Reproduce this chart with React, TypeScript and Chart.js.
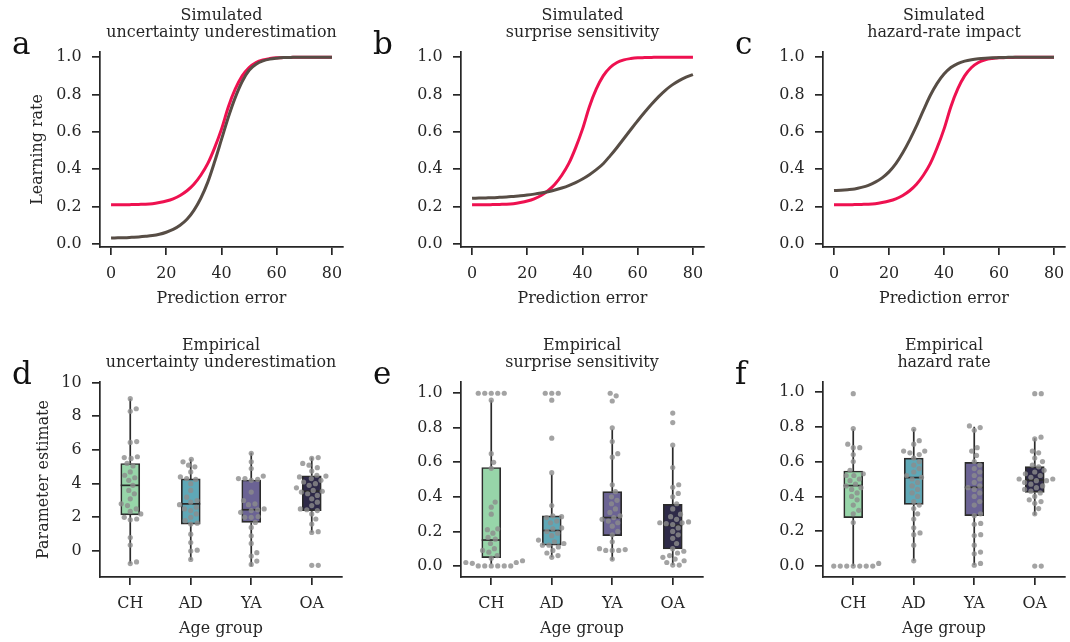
import React, { useEffect, useRef } from 'react';
import { Chart, registerables } from 'chart.js';

Chart.register(...registerables);

const FONT = '"DejaVu Serif", "Liberation Serif", serif';
const FS = 15.9;
const INK = '#262626';
const RED = '#ee1150';
const BROWN = '#574d45';
const EDGE = '#2b2b2b';
const POINT = 'rgba(140,140,140,0.8)';
const BOX_COLORS = ['#97d5a9', '#5fa8b7', '#6b6394', '#2e2a48'];

Chart.defaults.font.family = FONT;
Chart.defaults.font.size = FS;
Chart.defaults.color = INK;

// ---------- top row: simulated learning-rate curves ----------
const predictionError = [0, 2.5, 5, 7.5, 10, 12.5, 15, 17.5, 20, 22.5, 25, 27.5, 30, 32.5, 35, 37.5, 40, 42.5, 45, 47.5, 50, 52.5, 55, 57.5, 60, 62.5, 65, 67.5, 70, 72.5, 75, 77.5, 80];
const predictionErrorTicks = [0, 20, 40, 60, 80];
const learningRateTicks = [0, 0.2, 0.4, 0.6, 0.8, 1.0];

// red: reference model (same in all three panels)
const referenceLR = [0.21, 0.21, 0.21, 0.211, 0.212, 0.213, 0.216, 0.222, 0.23, 0.242, 0.26, 0.285, 0.32, 0.368, 0.43, 0.515, 0.615, 0.735, 0.83, 0.9, 0.945, 0.972, 0.986, 0.993, 0.997, 0.998, 0.999, 1, 1, 1, 1, 1, 1];
// brown: manipulated parameter
const uuSimulated = [0.032, 0.033, 0.034, 0.036, 0.038, 0.041, 0.045, 0.052, 0.063, 0.078, 0.1, 0.132, 0.18, 0.245, 0.33, 0.44, 0.56, 0.68, 0.785, 0.87, 0.93, 0.962, 0.98, 0.99, 0.995, 0.998, 0.999, 1, 1, 1, 1, 1, 1];
const ssSimulated = [0.245, 0.246, 0.247, 0.248, 0.25, 0.252, 0.255, 0.258, 0.262, 0.267, 0.273, 0.28, 0.289, 0.3, 0.313, 0.329, 0.348, 0.371, 0.398, 0.43, 0.472, 0.517, 0.565, 0.613, 0.66, 0.705, 0.748, 0.788, 0.823, 0.852, 0.875, 0.893, 0.907];
const hzSimulated = [0.286, 0.288, 0.291, 0.295, 0.303, 0.314, 0.331, 0.354, 0.386, 0.43, 0.488, 0.556, 0.632, 0.715, 0.795, 0.86, 0.91, 0.945, 0.966, 0.979, 0.987, 0.992, 0.995, 0.997, 0.998, 0.999, 1, 1, 1, 1, 1, 1, 1];

// ---------- bottom row: empirical parameter estimates ----------
const ageGroups = ['CH', 'AD', 'YA', 'OA'];
const paramTicks = [0, 2, 4, 6, 8, 10];
const unitTicks = [0, 0.2, 0.4, 0.6, 0.8, 1.0];

const uuCH = [9.05, 8.45, 8.3, 6.5, 6.45, 5.6, 5.55, 5.5, 5.2, 5.05, 4.7, 4.5, 4.35, 4.2, 3.9, 3.6, 3.4, 3.1, 2.8, 2.7, 2.5, 2.35, 2.2, 2.0, 1.9, 1.85, 0.8, 0.35, -0.65, -0.75];
const uuAD = [5.45, 5.3, 5.1, 5.0, 4.7, 4.4, 4.3, 4.25, 4.0, 3.6, 3.2, 3.0, 2.9, 2.75, 2.6, 2.5, 2.4, 2.2, 2.0, 1.8, 1.65, 1.6, 1.0, 0.5, 0.05, 0.0, -0.5];
const uuYA = [5.8, 5.3, 4.9, 4.45, 4.3, 4.3, 4.25, 4.2, 3.5, 3.0, 2.8, 2.75, 2.5, 2.45, 2.4, 2.3, 2.05, 2.0, 2.0, 1.7, 1.4, 0.9, 0.45, -0.1, -0.3, -0.6, -0.8];
const uuOA = [5.55, 5.5, 5.2, 5.1, 4.95, 4.75, 4.5, 4.45, 4.4, 4.3, 4.2, 4.1, 4.0, 3.9, 3.75, 3.6, 3.55, 3.5, 3.4, 3.3, 3.1, 2.9, 2.7, 2.5, 2.45, 2.4, 2.2, 1.9, 1.6, 1.15, 1.1, -0.85, -0.85];
const uuQ1 = [2.15, 1.6, 1.7, 2.4];
const uuMedian = [3.9, 2.8, 2.45, 3.55];
const uuQ3 = [5.2, 4.28, 4.22, 4.47];
const uuLow = [-0.75, -0.53, -0.9, 1.1];
const uuHigh = [9.05, 5.45, 5.84, 5.55];

const ssCH = [1.0, 1.0, 1.0, 1.0, 1.0, 0.96, 0.65, 0.6, 0.565, 0.37, 0.34, 0.3, 0.215, 0.21, 0.19, 0.165, 0.155, 0.13, 0.1, 0.09, 0.08, 0.06, 0.045, 0.03, 0.02, 0.02, 0.015, 0.0, 0.0, 0.0, 0.0, 0.0, 0.0];
const ssAD = [1.0, 1.0, 1.0, 0.96, 0.74, 0.54, 0.35, 0.29, 0.285, 0.28, 0.26, 0.25, 0.22, 0.215, 0.2, 0.19, 0.175, 0.15, 0.14, 0.13, 0.12, 0.12, 0.11, 0.09, 0.075, 0.06, 0.05];
const ssYA = [1.0, 0.985, 0.955, 0.8, 0.72, 0.65, 0.63, 0.47, 0.43, 0.4, 0.38, 0.36, 0.33, 0.31, 0.29, 0.28, 0.27, 0.26, 0.25, 0.23, 0.2, 0.18, 0.14, 0.1, 0.095, 0.09, 0.09, 0.09, 0.04];
const ssOA = [0.885, 0.83, 0.7, 0.57, 0.47, 0.455, 0.42, 0.4, 0.36, 0.33, 0.3, 0.285, 0.27, 0.255, 0.25, 0.25, 0.245, 0.24, 0.22, 0.2, 0.18, 0.16, 0.13, 0.1, 0.085, 0.075, 0.06, 0.05, 0.04, 0.03, 0.02, 0.005, 0.005];
const ssQ1 = [0.048, 0.12, 0.175, 0.098];
const ssMedian = [0.15, 0.205, 0.28, 0.235];
const ssQ3 = [0.57, 0.29, 0.43, 0.357];
const ssLow = [0.01, 0.05, 0.035, 0.005];
const ssHigh = [0.96, 0.53, 0.79, 0.69];

const hzCH = [0.99, 0.79, 0.7, 0.68, 0.68, 0.64, 0.6, 0.55, 0.53, 0.52, 0.52, 0.5, 0.49, 0.47, 0.46, 0.45, 0.44, 0.42, 0.4, 0.38, 0.35, 0.32, 0.3, 0.25, 0.015, 0, 0, 0, 0, 0, 0, 0];
const hzAD = [0.785, 0.72, 0.7, 0.66, 0.66, 0.65, 0.64, 0.62, 0.6, 0.58, 0.56, 0.54, 0.52, 0.51, 0.5, 0.48, 0.46, 0.44, 0.42, 0.4, 0.37, 0.35, 0.33, 0.3, 0.27, 0.22, 0.19, 0.18, 0.12, 0.03];
const hzYA = [0.805, 0.795, 0.78, 0.68, 0.66, 0.635, 0.6, 0.58, 0.56, 0.54, 0.52, 0.5, 0.48, 0.46, 0.45, 0.44, 0.42, 0.4, 0.37, 0.35, 0.3, 0.29, 0.245, 0.24, 0.18, 0.175, 0.12, 0.08, 0.07, 0.015, 0.005];
const hzOA = [0.99, 0.99, 0.74, 0.73, 0.66, 0.65, 0.62, 0.6, 0.58, 0.57, 0.55, 0.54, 0.53, 0.52, 0.51, 0.5, 0.5, 0.49, 0.49, 0.48, 0.47, 0.46, 0.45, 0.44, 0.43, 0.42, 0.4, 0.38, 0.37, 0.36, 0.33, 0.3, 0, 0];
const hzQ1 = [0.278, 0.354, 0.289, 0.423];
const hzMedian = [0.462, 0.508, 0.452, 0.494];
const hzQ3 = [0.546, 0.62, 0.596, 0.571];
const hzLow = [0.0, 0.03, 0.006, 0.293];
const hzHigh = [0.785, 0.785, 0.8, 0.734];

// ---------- helpers ----------
function textPlugin(letter: string, lines: string[]) {
  return {
    id: 'panelText',
    afterDraw(chart: any) {
      const { ctx, chartArea } = chart;
      ctx.save();
      ctx.fillStyle = INK;
      ctx.font = `${FS}px ${FONT}`;
      ctx.textAlign = 'center';
      ctx.textBaseline = 'alphabetic';
      const cx = (chartArea.left + chartArea.right) / 2;
      lines.forEach((t, k) => ctx.fillText(t, cx, chartArea.top - 31.6 + k * 16.8));
      ctx.font = `31px ${FONT}`;
      ctx.fillStyle = '#111';
      ctx.textAlign = 'left';
      ctx.fillText(letter, chartArea.left - 88, chartArea.top + 2);
      ctx.restore();
    },
  };
}

function boxPlugin(q1: number[], med: number[], q3: number[], low: number[], high: number[]) {
  return {
    id: 'boxExtras',
    beforeDatasetsDraw(chart: any) {
      const { ctx } = chart;
      const xs = chart.scales.x;
      const ys = chart.scales.y;
      ctx.save();
      ctx.strokeStyle = EDGE;
      ctx.lineWidth = 1.7;
      med.forEach((_, i) => {
        const x = xs.getPixelForValue(i);
        ctx.beginPath();
        ctx.moveTo(x, ys.getPixelForValue(low[i]));
        ctx.lineTo(x, ys.getPixelForValue(q1[i]));
        ctx.moveTo(x, ys.getPixelForValue(q3[i]));
        ctx.lineTo(x, ys.getPixelForValue(high[i]));
        ctx.stroke();
      });
      ctx.restore();
    },
    afterDatasetDraw(chart: any, args: any) {
      if (args.index !== 0) return;
      const { ctx } = chart;
      const ys = chart.scales.y;
      const meta = chart.getDatasetMeta(0);
      ctx.save();
      ctx.strokeStyle = EDGE;
      ctx.lineWidth = 1.7;
      meta.data.forEach((el: any, i: number) => {
        const y = ys.getPixelForValue(med[i]);
        ctx.beginPath();
        ctx.moveTo(el.x - el.width / 2, y);
        ctx.lineTo(el.x + el.width / 2, y);
        ctx.stroke();
      });
      ctx.restore();
    },
  };
}

function beeswarm(py: number[], d: number): number[] {
  const order = py.map((_, i) => i).sort((a, b) => py[b] - py[a]);
  const placed: { x: number; y: number }[] = [];
  const out = new Array(py.length).fill(0);
  for (const i of order) {
    const y = py[i];
    const near = placed.filter((p) => Math.abs(p.y - y) < d);
    const cands = [0];
    near.forEach((p) => {
      const dx = Math.sqrt(d * d - (p.y - y) * (p.y - y));
      cands.push(p.x + dx, p.x - dx);
    });
    cands.sort((a, b) => Math.abs(a) - Math.abs(b));
    const x = cands.find((c) => near.every((p) => (p.x - c) ** 2 + (p.y - y) ** 2 >= d * d - 1e-6)) ?? 0;
    out[i] = x;
    placed.push({ x, y });
  }
  return out;
}

const X_TICKS = { padding: 9, color: INK, autoSkip: false, maxRotation: 0, font: { size: FS } };
const Y_TICKS = { padding: 10.5, color: INK, autoSkip: false, font: { size: FS } };

function xAxisBase(height: number, titleText: string, titleBottom: number) {
  return {
    type: 'linear',
    offset: false,
    afterFit: (s: any) => {
      s.height = height;
      s.paddingLeft = 0;
      s.paddingRight = 0;
    },
    border: { display: true, color: INK, width: 1.7 },
    grid: { display: true, drawOnChartArea: false, drawTicks: true, tickLength: 8, lineWidth: 1.7, color: INK, offset: false },
    title: { display: true, text: titleText, color: INK, font: { size: FS }, padding: { top: 0, bottom: titleBottom } },
  };
}

function yAxisBase(width: number, yTitle: string | undefined, titleTop: number) {
  return {
    type: 'linear',
    afterFit: (s: any) => {
      s.width = width;
      s.paddingTop = 0;
      s.paddingBottom = 0;
    },
    border: { display: true, color: INK, width: 1.7 },
    grid: { display: true, drawOnChartArea: false, drawTicks: true, tickLength: 8, lineWidth: 1.7, color: INK },
    title: { display: !!yTitle, text: yTitle || '', color: INK, font: { size: FS }, padding: { top: titleTop, bottom: 0 } },
  };
}

type LinePanelCfg = {
  letter: string; lines: string[]; yLabel?: string; reference: number[]; simulated: number[];
  left: number; width: number; axisW: number; padR: number;
};

const ROW_H = 321;

const linePanels: LinePanelCfg[] = [
  { letter: 'a', lines: ['Simulated', 'uncertainty underestimation'], yLabel: 'Learning rate', reference: referenceLR, simulated: uuSimulated, left: 0, width: 360, axisW: 100, padR: 17 },
  { letter: 'b', lines: ['Simulated', 'surprise sensitivity'], reference: referenceLR, simulated: ssSimulated, left: 360, width: 360, axisW: 101, padR: 16 },
  { letter: 'c', lines: ['Simulated', 'hazard-rate impact'], reference: referenceLR, simulated: hzSimulated, left: 720, width: 350, axisW: 103, padR: 5 },
];

type BoxPanelCfg = {
  letter: string; lines: string[]; yLabel?: string; groups: number[][];
  q1: number[]; med: number[]; q3: number[]; low: number[]; high: number[];
  yMin: number; yMax: number; yTicks: number[]; decimals: number;
  left: number; width: number; axisW: number; padR: number;
};

const boxPanels: BoxPanelCfg[] = [
  { letter: 'd', lines: ['Empirical', 'uncertainty underestimation'], yLabel: 'Parameter estimate', groups: [uuCH, uuAD, uuYA, uuOA], q1: uuQ1, med: uuMedian, q3: uuQ3, low: uuLow, high: uuHigh, yMin: -1.545, yMax: 10.04, yTicks: paramTicks, decimals: 0, left: 0, width: 360, axisW: 100, padR: 18 },
  { letter: 'e', lines: ['Empirical', 'surprise sensitivity'], groups: [ssCH, ssAD, ssYA, ssOA], q1: ssQ1, med: ssMedian, q3: ssQ3, low: ssLow, high: ssHigh, yMin: -0.064, yMax: 1.065, yTicks: unitTicks, decimals: 1, left: 360, width: 360, axisW: 101, padR: 17 },
  { letter: 'f', lines: ['Empirical', 'hazard rate'], groups: [hzCH, hzAD, hzYA, hzOA], q1: hzQ1, med: hzMedian, q3: hzQ3, low: hzLow, high: hzHigh, yMin: -0.063, yMax: 1.057, yTicks: unitTicks, decimals: 1, left: 720, width: 350, axisW: 103, padR: 5 },
];

function LinePanel({ cfg }: { cfg: LinePanelCfg }) {
  const ref = useRef<HTMLCanvasElement>(null);
  useEffect(() => {
    const canvas = ref.current!;
    const chart = new Chart(canvas, {
      type: 'line',
      data: {
        datasets: [
          {
            data: predictionError.map((x, i) => ({ x, y: cfg.simulated[i] })),
            borderColor: BROWN, borderWidth: 3, pointRadius: 0, cubicInterpolationMode: 'monotone', order: 0,
          },
          {
            data: predictionError.map((x, i) => ({ x, y: cfg.reference[i] })),
            borderColor: RED, borderWidth: 3, pointRadius: 0, cubicInterpolationMode: 'monotone', order: 1,
          },
        ],
      },
      options: {
        responsive: false,
        animation: false,
        events: [],
        layout: { padding: { left: 0, right: cfg.padR, top: 52, bottom: 0 }, autoPadding: false },
        plugins: { legend: { display: false }, tooltip: { enabled: false } },
        scales: {
          x: {
            ...xAxisBase(74, 'Prediction error', 12.4),
            min: -4, max: 84,
            afterBuildTicks: (s: any) => { s.ticks = predictionErrorTicks.map((v) => ({ value: v })); },
            ticks: { ...X_TICKS, callback: (v: any) => String(v) },
          },
          y: {
            ...yAxisBase(cfg.axisW, cfg.yLabel, 28),
            min: -0.016, max: 1.028,
            afterBuildTicks: (s: any) => { s.ticks = learningRateTicks.map((v) => ({ value: v })); },
            ticks: { ...Y_TICKS, callback: (v: any) => Number(v).toFixed(1) },
          },
        },
      } as any,
      plugins: [textPlugin(cfg.letter, cfg.lines)],
    } as any);
    return () => chart.destroy();
  }, []);
  return (
    <canvas
      ref={ref}
      width={cfg.width}
      height={ROW_H}
      style={{ position: 'absolute', left: cfg.left, top: 0, width: cfg.width, height: ROW_H }}
    />
  );
}

function BoxPanel({ cfg }: { cfg: BoxPanelCfg }) {
  const ref = useRef<HTMLCanvasElement>(null);
  useEffect(() => {
    const canvas = ref.current!;
    const centred = cfg.groups.flatMap((vals, gi) => vals.map((v) => ({ x: gi, y: v })));
    const chart = new Chart(canvas, {
      type: 'bar',
      data: {
        datasets: [
          {
            type: 'bar',
            data: ageGroups.map((_, i) => ({ x: i, y: [cfg.q1[i], cfg.q3[i]] })),
            backgroundColor: BOX_COLORS,
            borderColor: EDGE,
            borderWidth: 1.7,
            borderSkipped: false,
            barThickness: 19,
            grouped: false,
            order: 1,
          },
          {
            type: 'scatter',
            data: centred,
            backgroundColor: POINT,
            borderWidth: 0,
            pointRadius: 2.6,
            order: 0,
          },
        ],
      },
      options: {
        responsive: false,
        animation: false,
        events: [],
        layout: { padding: { left: 0, right: cfg.padR, top: 61, bottom: 0 }, autoPadding: false },
        plugins: { legend: { display: false }, tooltip: { enabled: false } },
        scales: {
          x: {
            ...xAxisBase(65, 'Age group', 3.4),
            min: -0.5, max: 3.5,
            afterBuildTicks: (s: any) => { s.ticks = ageGroups.map((_, i) => ({ value: i })); },
            ticks: { ...X_TICKS, callback: (v: any) => ageGroups[Math.round(Number(v))] },
          },
          y: {
            ...yAxisBase(cfg.axisW, cfg.yLabel, 34.5),
            min: cfg.yMin, max: cfg.yMax,
            afterBuildTicks: (s: any) => { s.ticks = cfg.yTicks.map((v) => ({ value: v })); },
            ticks: { ...Y_TICKS, callback: (v: any) => Number(v).toFixed(cfg.decimals) },
          },
        },
      } as any,
      plugins: [boxPlugin(cfg.q1, cfg.med, cfg.q3, cfg.low, cfg.high), textPlugin(cfg.letter, cfg.lines)],
    } as any);

    // lay the points out as a beeswarm, in pixel space, through the chart's own scales
    const xs: any = chart.scales.x;
    const ys: any = chart.scales.y;
    const unit = xs.getPixelForValue(1) - xs.getPixelForValue(0);
    const swarmed: { x: number; y: number }[] = [];
    cfg.groups.forEach((vals, gi) => {
      const py = vals.map((v) => ys.getPixelForValue(v));
      const off = beeswarm(py, 6.5);
      vals.forEach((v, k) => swarmed.push({ x: gi + off[k] / unit, y: v }));
    });
    chart.data.datasets[1].data = swarmed as any;
    chart.update();
    return () => chart.destroy();
  }, []);
  return (
    <canvas
      ref={ref}
      width={cfg.width}
      height={ROW_H}
      style={{ position: 'absolute', left: cfg.left, top: ROW_H, width: cfg.width, height: ROW_H }}
    />
  );
}

export default function App() {
  return (
    <div style={{ position: 'absolute', left: 0, top: 0, width: 1070, height: 642, background: '#fff', overflow: 'hidden' }}>
      {linePanels.map((cfg) => (
        <LinePanel key={cfg.letter} cfg={cfg} />
      ))}
      {boxPanels.map((cfg) => (
        <BoxPanel key={cfg.letter} cfg={cfg} />
      ))}
    </div>
  );
}
